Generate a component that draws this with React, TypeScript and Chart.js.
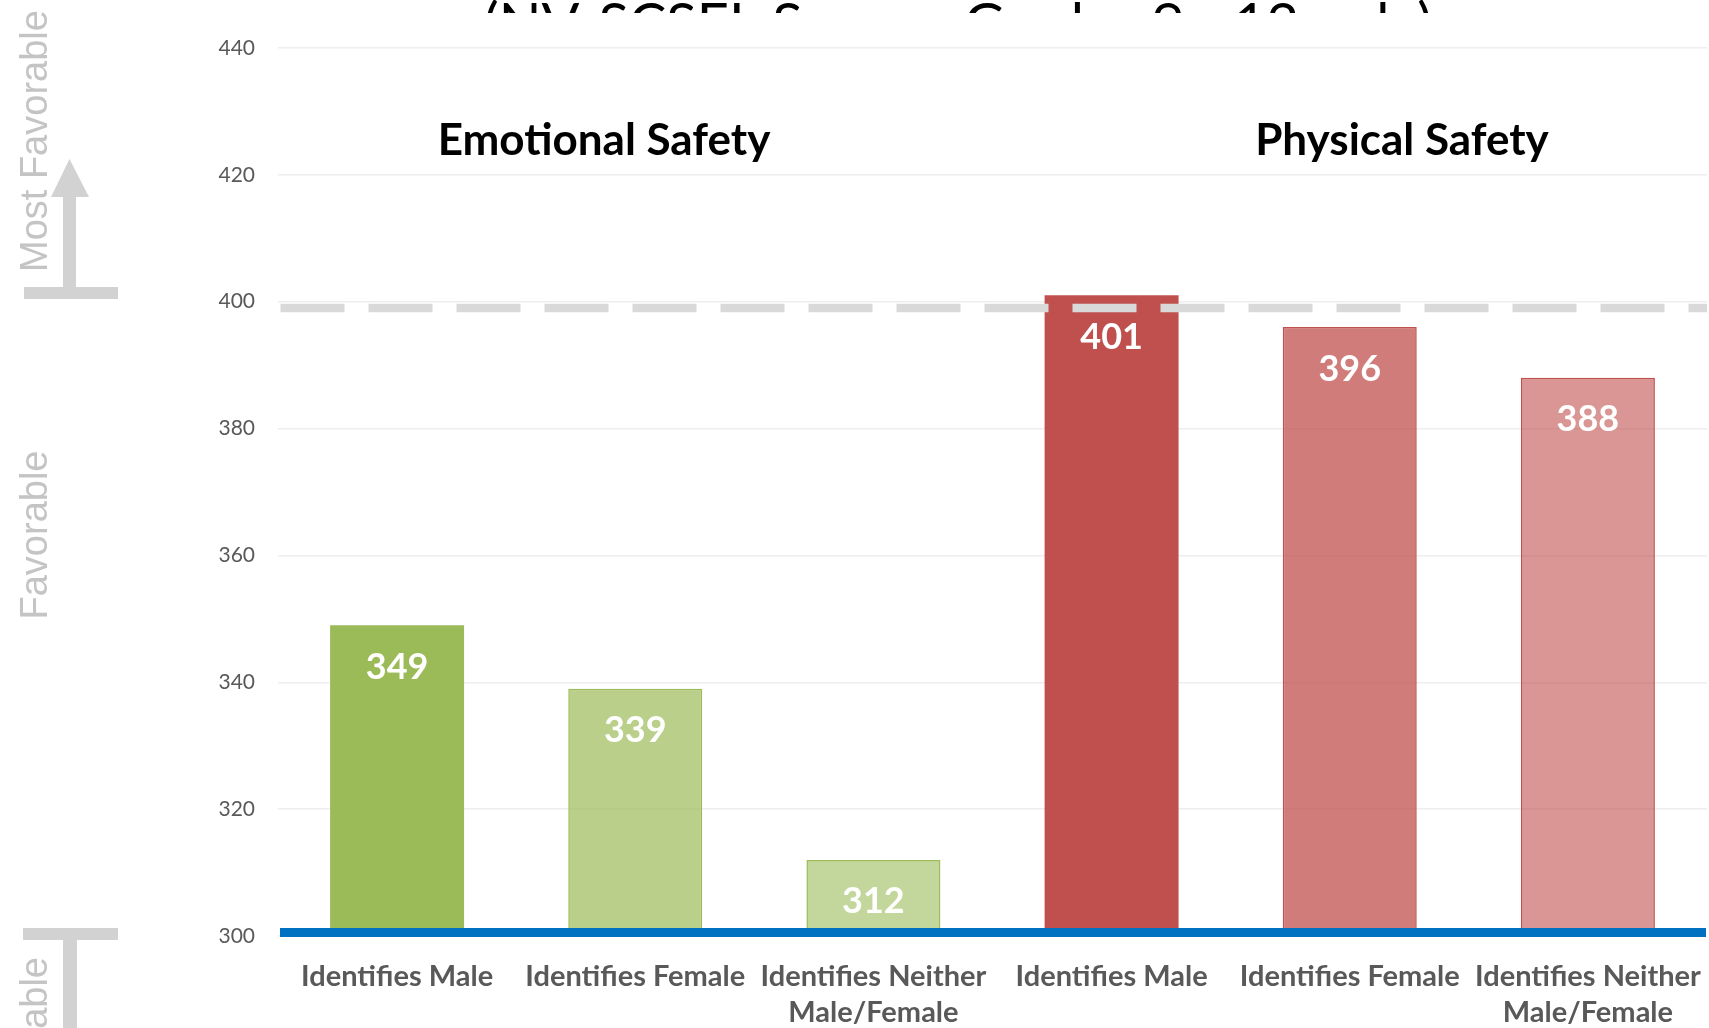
import React, { useEffect, useRef } from 'react';
import { Chart, registerables } from 'chart.js';

Chart.register(...registerables);

// ---- data ----
const categories: string[][] = [
  ['Identifies Male'],
  ['Identifies Female'],
  ['Identifies Neither', 'Male/Female'],
  ['Identifies Male'],
  ['Identifies Female'],
  ['Identifies Neither', 'Male/Female'],
];
const scores = [349, 339, 312, 401, 396, 388];
const barColors = [
  'rgba(155,187,89,1)',
  'rgba(155,187,89,0.7)',
  'rgba(155,187,89,0.6)',
  'rgba(192,80,77,1)',
  'rgba(192,80,77,0.75)',
  'rgba(192,80,77,0.6)',
];
const barBorderColors = ['#9BBB59', '#9BBB59', '#9BBB59', '#C0504D', '#C0504D', '#C0504D'];
const barBorderWidths = [0, 1.5, 1.5, 0, 1.5, 1.5];
const yMin = 300;
const yMax = 440;
const yStep = 20;
const referenceLevel = 399;
const groupTitles = ['Emotional Safety', 'Physical Safety'];
const chartTitle = '(NV-SCSEL Survey, Grades 9 - 12 only)';
const sideLabels = ['Most Favorable', 'Favorable', 'Least Favorable'];

const W = 1709;
const H = 1028;

const decorPlugin = {
  id: 'decor',
  afterDatasetsDraw(chart: any) {
    const { ctx, chartArea, scales } = chart;
    const y = scales.y;
    ctx.save();
    // dashed reference line
    const yr = y.getPixelForValue(referenceLevel);
    ctx.strokeStyle = '#D9D9D9';
    ctx.lineWidth = 8.5;
    ctx.setLineDash([64, 24]);
    ctx.lineCap = 'butt';
    ctx.beginPath();
    ctx.moveTo(chartArea.left + 2.5, yr);
    ctx.lineTo(chartArea.right, yr);
    ctx.stroke();
    ctx.setLineDash([]);
    // blue baseline
    const yb = y.getPixelForValue(yMin);
    ctx.fillStyle = '#0070C0';
    ctx.fillRect(chartArea.left + 2, yb - 8, chartArea.right - chartArea.left - 3, 9);
    // value labels
    const meta = chart.getDatasetMeta(0);
    ctx.fillStyle = '#FFFFFF';
    ctx.font = 'bold 36px Lato';
    ctx.textAlign = 'center';
    ctx.textBaseline = 'middle';
    meta.data.forEach((bar: any, i: number) => {
      ctx.fillText(String(scores[i]), bar.x, bar.y + 42);
    });
    ctx.restore();
  },
  afterDraw(chart: any) {
    const { ctx } = chart;
    ctx.save();
    // clipped title strip at top
    ctx.save();
    ctx.beginPath();
    ctx.rect(0, 0, W, 13);
    ctx.clip();
    ctx.fillStyle = '#000000';
    ctx.font = '56px Lato';
    ctx.textAlign = 'center';
    ctx.textBaseline = 'alphabetic';
    ctx.fillText(chartTitle, 958, 43);
    ctx.restore();

    // group headings
    ctx.fillStyle = '#000000';
    ctx.font = 'bold 44px Lato';
    ctx.textAlign = 'center';
    ctx.textBaseline = 'alphabetic';
    ctx.fillText(groupTitles[0], 604, 155);
    ctx.fillText(groupTitles[1], 1402, 155);

    // side arrows
    ctx.fillStyle = '#D2D2D2';
    ctx.fillRect(24, 287, 94, 12);
    ctx.fillRect(63, 196, 13, 92);
    ctx.beginPath();
    ctx.moveTo(51, 197);
    ctx.lineTo(89, 197);
    ctx.lineTo(69.5, 159);
    ctx.closePath();
    ctx.fill();
    ctx.fillRect(23, 928, 95, 12);
    ctx.fillRect(63, 939, 14, 95);

    // side labels (rotated)
    ctx.fillStyle = '#C4C4C4';
    ctx.font = '38px "Liberation Sans"';
    ctx.textBaseline = 'alphabetic';
    const drawRot = (text: string, x: number, yy: number, align: CanvasTextAlign) => {
      ctx.save();
      ctx.translate(x, yy);
      ctx.rotate(-Math.PI / 2);
      ctx.textAlign = align;
      ctx.fillText(text, 0, 0);
      ctx.restore();
    };
    drawRot(sideLabels[0], 47, 272, 'left');
    drawRot(sideLabels[1], 47, 535, 'center');
    drawRot(sideLabels[2], 47, 957, 'right');
    ctx.restore();
  },
};

export default function App() {
  const ref = useRef<HTMLCanvasElement | null>(null);
  useEffect(() => {
    if (!ref.current) return;
    const chart = new Chart(ref.current, {
      type: 'bar',
      data: {
        labels: categories,
        datasets: [
          {
            data: scores,
            backgroundColor: barColors,
            borderColor: barBorderColors,
            borderWidth: barBorderWidths,
            borderSkipped: 'bottom',
            barPercentage: 0.5625,
            categoryPercentage: 1,
          },
        ],
      },
      options: {
        responsive: false,
        maintainAspectRatio: false,
        animation: false,
        devicePixelRatio: 1,
        layout: { padding: { top: 48, right: 2, left: 0, bottom: 0 } },
        plugins: {
          legend: { display: false },
          tooltip: { enabled: false },
          title: { display: false },
        },
        scales: {
          x: {
            grid: { display: false, drawTicks: false },
            border: { display: false },
            ticks: {
              color: '#595959',
              font: { family: 'Lato', size: 29, weight: 'bold', lineHeight: 1.24 },
              padding: 23,
              maxRotation: 0,
              minRotation: 0,
              autoSkip: false,
            },
            afterFit(scale: any) {
              scale.height = 92;
              scale.paddingLeft = 0;
              scale.paddingRight = 0;
            },
          },
          y: {
            min: yMin,
            max: yMax,
            grid: { color: '#EEEEEE', lineWidth: 1.5, drawTicks: false },
            border: { display: false },
            ticks: {
              stepSize: yStep,
              color: '#595959',
              font: { family: 'Lato', size: 21 },
              padding: 23,
            },
            afterFit(scale: any) {
              scale.width = 278;
            },
          },
        },
      },
      plugins: [decorPlugin],
    });
    return () => chart.destroy();
  }, []);
  return (
    <div style={{ position: 'fixed', left: 0, top: 0, width: W, height: H, background: '#fff' }}>
      <canvas ref={ref} width={W} height={H} style={{ display: 'block', width: W, height: H }} />
    </div>
  );
}
